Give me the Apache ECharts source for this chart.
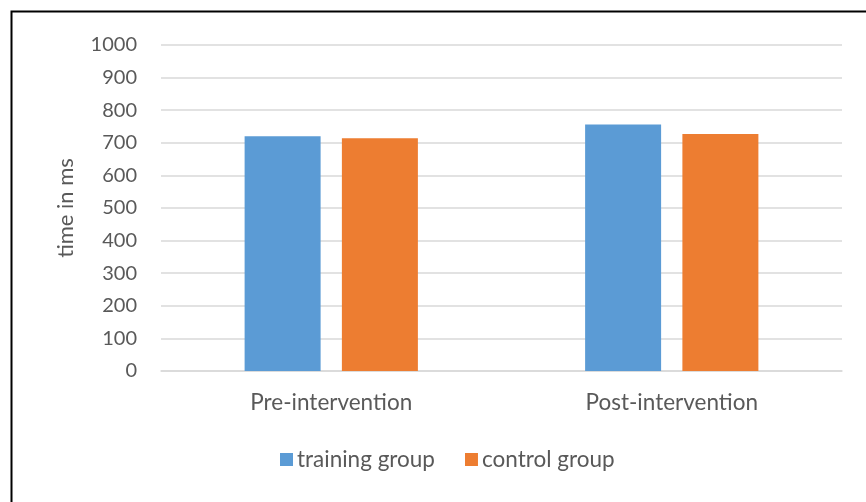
<!DOCTYPE html>
<html><head><meta charset="utf-8">
<script src="https://cdn.jsdelivr.net/npm/echarts@6/dist/echarts.min.js"></script>
<style>html,body{margin:0;padding:0;background:#fff}#c{width:866px;height:502px}</style>
</head><body><div id="c"></div>
<script>
const categories = ['Pre-intervention', 'Post-intervention'];
const seriesNames = ['training group', 'control group'];
const trainingValues = [720, 756];
const controlValues = [714, 727];
const yTicks = [0, 100, 200, 300, 400, 500, 600, 700, 800, 900, 1000];

const chart = echarts.init(document.getElementById('c'), null, {renderer: 'canvas'});
const font = 'Lato, "Liberation Sans", sans-serif';
chart.setOption({
  animation: false,
  backgroundColor: '#fff',
  graphic: [{type: 'rect', left: 9, top: 9, shape: {width: 1000, height: 1000}, style: {fill: 'none', stroke: '#000', lineWidth: 2}, silent: true}],
  grid: {left: 161, right: 24, top: 45, bottom: 131, containLabel: false},
  legend: {
    data: seriesNames, bottom: 26, left: 275, icon: 'rect', itemWidth: 13, itemHeight: 13, itemGap: 30,
    textStyle: {color: '#595959', fontSize: 22.5, fontFamily: font, padding: [0, 0, 0, -1]}
  },
  xAxis: {
    type: 'category', data: categories,
    axisLine: {lineStyle: {color: '#d9d9d9', width: 1.5}}, axisTick: {show: false},
    axisLabel: {color: '#595959', fontSize: 22.5, fontFamily: font, margin: 20}
  },
  yAxis: {
    type: 'value', min: 0, max: 1000, interval: 100,
    name: 'time in ms', nameLocation: 'middle', nameGap: 84, nameRotate: 90,
    nameTextStyle: {color: '#595959', fontSize: 22, fontFamily: font},
    axisLine: {show: false}, axisTick: {show: false},
    axisLabel: {color: '#595959', fontSize: 20, fontFamily: font, margin: 24,
      formatter: v => yTicks.includes(v) ? String(v) : ''},
    splitLine: {lineStyle: {color: '#d9d9d9', width: 1.5}}
  },
  series: [
    {name: seriesNames[0], type: 'bar', data: trainingValues, barWidth: 76, barGap: '28%', itemStyle: {color: '#5b9bd5'}},
    {name: seriesNames[1], type: 'bar', data: controlValues, barWidth: 76, itemStyle: {color: '#ed7d31'}}
  ]
});
</script></body></html>
